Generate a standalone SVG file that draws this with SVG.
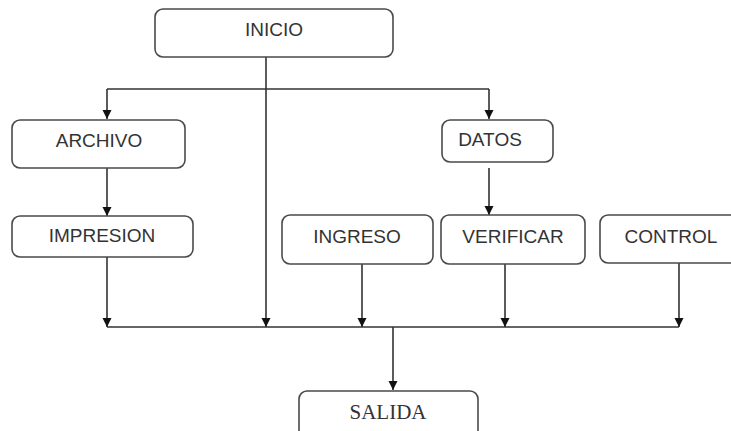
<svg xmlns="http://www.w3.org/2000/svg" width="731" height="431" viewBox="0 0 731 431">
  <style>
    .box { fill: #ffffff; stroke: #4a4a4a; stroke-width: 1.6; }
    .lbl { font-family: "Liberation Sans", Arial, sans-serif; font-size: 19px; fill: #333333; text-anchor: middle; }
    .lbl-serif { font-family: "Liberation Serif", "Times New Roman", serif; font-size: 21px; fill: #333333; text-anchor: middle; }
    .wire { fill: none; stroke: #333333; stroke-width: 1.6; }
    .tip { fill: #111111; }
  </style>
  <defs>
    <!-- downward arrowhead, tip at (0,0) -->
    <polygon id="tipDown" class="tip" points="-4.5,-9 4.5,-9 0,0"/>
  </defs>
  <rect width="731" height="431" fill="#ffffff"/>

  <g id="connectors">
    <!-- top split from INICIO -->
    <line class="wire" x1="107" y1="89" x2="489" y2="89"/>
    <path class="wire" d="M107,89 V119"/>
    <path class="wire" d="M489,89 V119"/>
    <!-- chain links -->
    <path class="wire" d="M107,168 V216"/>
    <path class="wire" d="M489,168 V215"/>
    <!-- collector bus -->
    <line class="wire" x1="107" y1="327" x2="679" y2="327"/>
    <path class="wire" d="M266,57 V327"/>
    <path class="wire" d="M107,257 V327"/>
    <path class="wire" d="M362,264 V327"/>
    <path class="wire" d="M505,264 V327"/>
    <path class="wire" d="M679,263 V327"/>
    <path class="wire" d="M393,327 V390"/>
    <!-- arrowheads -->
    <use href="#tipDown" x="107" y="119"/>
    <use href="#tipDown" x="489" y="119"/>
    <use href="#tipDown" x="107" y="216"/>
    <use href="#tipDown" x="489" y="215"/>
    <use href="#tipDown" x="107" y="327"/>
    <use href="#tipDown" x="266" y="327"/>
    <use href="#tipDown" x="362" y="327"/>
    <use href="#tipDown" x="505" y="327"/>
    <use href="#tipDown" x="679" y="327"/>
    <use href="#tipDown" x="393" y="390"/>
  </g>

  <g id="inicio">
    <rect class="box" x="155" y="9" width="238" height="48" rx="8"/>
    <text class="lbl" x="274" y="36">INICIO</text>
  </g>
  <g id="archivo">
    <rect class="box" x="12" y="120" width="173" height="48" rx="8"/>
    <text class="lbl" x="99" y="147">ARCHIVO</text>
  </g>
  <g id="datos">
    <rect class="box" x="442" y="120" width="111" height="42" rx="8"/>
    <text class="lbl" x="490" y="146">DATOS</text>
  </g>
  <g id="impresion">
    <rect class="box" x="12" y="216" width="181" height="41" rx="8"/>
    <text class="lbl" x="102" y="242">IMPRESION</text>
  </g>
  <g id="ingreso">
    <rect class="box" x="282" y="215" width="151" height="49" rx="8"/>
    <text class="lbl" x="357" y="243">INGRESO</text>
  </g>
  <g id="verificar">
    <rect class="box" x="441" y="215" width="144" height="49" rx="8"/>
    <text class="lbl" x="513" y="243">VERIFICAR</text>
  </g>
  <g id="control">
    <rect class="box" x="600" y="215" width="150" height="48" rx="8"/>
    <text class="lbl" x="671" y="243">CONTROL</text>
  </g>
  <g id="salida">
    <rect class="box" x="299" y="391" width="179" height="60" rx="8"/>
    <text class="lbl-serif" x="388" y="419">SALIDA</text>
  </g>
</svg>
